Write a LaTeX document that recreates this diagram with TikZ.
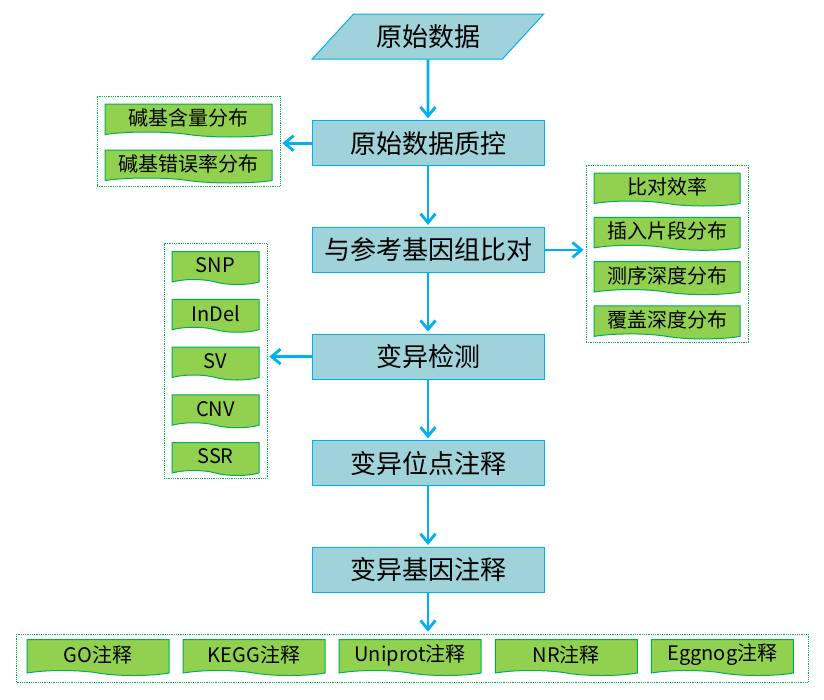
\documentclass[tikz,border=0pt]{standalone}
\usepackage{fontspec}
\setmainfont{Noto Sans CJK SC}
\usetikzlibrary{positioning,shapes.geometric,shapes.symbols,fit,arrows.meta}
\definecolor{stepfill}{HTML}{9FD3D9}
\definecolor{stepline}{HTML}{00B0F0}
\definecolor{docfill}{HTML}{92D050}
\definecolor{docline}{HTML}{00B050}

\begin{document}
\begin{tikzpicture}[
        x=1pt, y=1pt,
        >={Straight Barb[length=9pt,width=15pt]},
        node distance=106.7pt,
        main/.style={rectangle, draw=stepline, fill=stepfill, line width=1pt,
                     minimum width=232pt, minimum height=45pt,
                     font=\fontsize{26}{28}\selectfont},
        indata/.style={main, trapezium, trapezium left angle=45,
                       trapezium right angle=135, trapezium stretches=true},
        doc/.style={tape, tape bend top=none, tape bend bottom=out and in,
                    tape bend height=5pt, draw=docline, fill=docfill,
                    line width=1pt, minimum height=33pt, inner sep=0pt,
                    font=\fontsize{20}{22}\selectfont},
        grp/.style={draw=docline, densely dotted, line width=0.8pt, inner sep=7.5pt},
        flow/.style={->, draw=stepline, line width=2.8pt, shorten >=2pt}
        ]
        \useasboundingbox (0,0) rectangle (824,-699);

        % main chain
        \node[indata] (raw) at (428,-36.5) {原始数据};
        \node[main] (qc) [below of = raw] {原始数据质控};
        \node[main] (map) [below of = qc] {与参考基因组比对};
        \node[main] (call) [below of = map] {变异检测};
        \node[main] (site) [below of = call] {变异位点注释};
        \node[main] (gene) [below of = site] {变异基因注释};

        % quality control outputs
        \node[doc, minimum width=167pt] (qc1) at (188.5,-118) {碱基含量分布};
        \node[doc, minimum width=167pt, node distance=46pt] (qc2) [below of = qc1] {碱基错误率分布};
        \node[grp, fit=(qc1)(qc2)] (qcgrp) {};

        % mapping outputs
        \node[doc, minimum width=146pt] (m1) at (667,-187) {比对效率};
        \node[doc, minimum width=146pt, node distance=44.3pt] (m2) [below of = m1] {插入片段分布};
        \node[doc, minimum width=146pt, node distance=44.3pt] (m3) [below of = m2] {测序深度分布};
        \node[doc, minimum width=146pt, node distance=44.3pt] (m4) [below of = m3] {覆盖深度分布};
        \node[grp, fit=(m1)(m4)] (mgrp) {};

        % variant types
        \begin{scope}[node distance=47.75pt,
                      every node/.append style={font=\fontsize{22}{24}\selectfont}]
        \node[doc, minimum width=87pt] (snp) at (215.5,-265.5) {SNP};
        \node[doc, minimum width=87pt] (indel) [below of = snp] {InDel};
        \node[doc, minimum width=87pt] (sv) [below of = indel] {SV};
        \node[doc, minimum width=87pt] (cnv) [below of = sv] {CNV};
        \node[doc, minimum width=87pt] (ssr) [below of = cnv] {SSR};
        \end{scope}
        \node[grp, fit=(snp)(ssr)] (vgrp) {};

        % annotation databases
        \begin{scope}[node distance=156.1pt]
        \node[doc, minimum width=142pt, minimum height=36pt] (go) at (98,-655) {GO注释};
        \node[doc, minimum width=142pt, minimum height=36pt] (kegg) [right of = go] {KEGG注释};
        \node[doc, minimum width=142pt, minimum height=36pt] (uni) [right of = kegg] {Uniprot注释};
        \node[doc, minimum width=142pt, minimum height=36pt] (nr) [right of = uni] {NR注释};
        \node[doc, minimum width=142pt, minimum height=36pt] (egg) [right of = nr] {Eggnog注释};
        \end{scope}
        \node[grp, fit=(go)(egg), inner xsep=12pt, inner ysep=8pt,
              xshift=2pt, yshift=-3pt] (dbgrp) {};

        \draw[flow] (raw) -- (qc);
        \draw[flow] (qc) -- (map);
        \draw[flow] (map) -- (call);
        \draw[flow] (call) -- (site);
        \draw[flow] (site) -- (gene);
        \draw[flow] (gene) -- (gene |- dbgrp.north);
        \draw[flow] (qc.west) -- (qc.west -| qcgrp.east);
        \draw[flow] (map.east) -- (map.east -| mgrp.west);
        \draw[flow] (call.west) -- (call.west -| vgrp.east);
\end{tikzpicture}
\end{document}
